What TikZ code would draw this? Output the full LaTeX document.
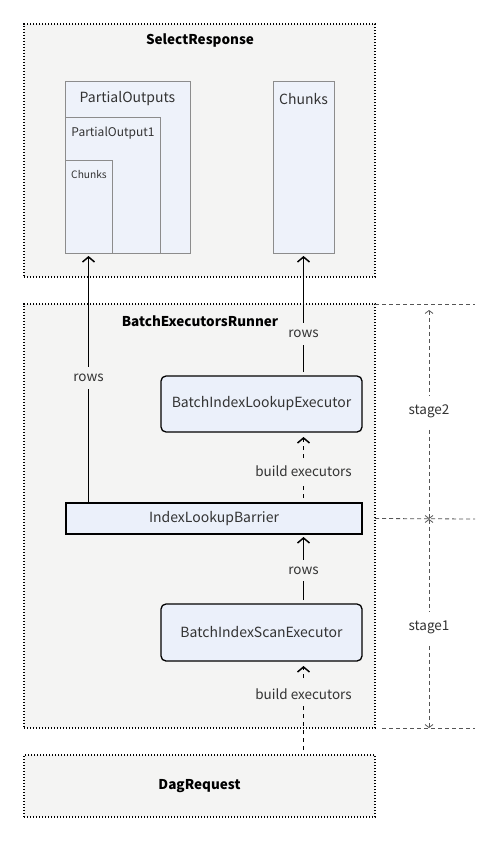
\documentclass[tikz,border=0pt]{standalone}
\usepackage{fontspec}
\setmainfont{Noto Sans CJK SC}
\usetikzlibrary{arrows.meta,positioning}
\tikzset{>={Straight Barb[length=5pt,width=12pt]}}
\definecolor{panel}{HTML}{F4F4F3}
\definecolor{partblue}{HTML}{EEF2FA}
\definecolor{partline}{HTML}{8C8C8C}
\definecolor{execblue}{HTML}{EBF0FA}
\definecolor{ink}{HTML}{333333}
\definecolor{guideline}{HTML}{555555}
\tikzset{
    region/.style={draw=black, fill=panel, line width=1.3pt, dash pattern=on 1.3pt off 1.7pt,
        inner sep=0pt, outer sep=0pt, minimum width=351pt},
    title/.style={text=black, font=\bfseries\fontsize{13.5}{15}\selectfont},
    part/.style={draw=partline, fill=partblue, line width=1pt, inner sep=0pt, outer sep=0pt},
    exec/.style={draw=black, fill=execblue, line width=1.3pt, inner sep=0pt, outer sep=0pt,
        text=ink, font=\fontsize{14}{16}\selectfont},
    flow/.style={->, line width=1.5pt},
    build/.style={->, line width=1.5pt, dash pattern=on 4pt off 4pt},
    tag/.style={fill=panel, text=ink, inner xsep=2pt, inner ysep=7pt, font=\fontsize{13.5}{15}\selectfont},
    guide/.style={draw=guideline, line width=0.8pt, dash pattern=on 4pt off 3pt},
    span/.style={guide, {Straight Barb[length=3pt,width=8pt]}-{Straight Barb[length=3pt,width=8pt]}},
}
\begin{document}
\begin{tikzpicture}[x=1pt,y=-1pt]
    \useasboundingbox (0,0) rectangle (500,842);
    \node[region, minimum height=253pt] at (199.5,150.5) (resp) {};
    \node[title] at (200,41) (resptitle) {SelectResponse};
    \node[part, minimum width=125pt, minimum height=171pt] at (127.5,167.5) (outs) {};
    \node[part, minimum width=95pt, minimum height=135pt] at (112.5,185.5) (out1) {};
    \node[part, minimum width=47pt, minimum height=92pt] at (88.5,207) (outchunks) {};
    \node[part, minimum width=61pt, minimum height=171pt] at (303.5,167.5) (chunks) {};
    \node[text=ink, font=\fontsize{14}{16}\selectfont] at (127.5,99) {PartialOutputs};
    \node[text=ink, font=\fontsize{12}{14}\selectfont] at (113,133) {PartialOutput1};
    \node[text=ink, font=\fontsize{10.2}{12}\selectfont] at (89,175) {Chunks};
    \node[text=ink, font=\fontsize{14}{16}\selectfont] at (303.5,99) {Chunks};

    \node[region, minimum height=424pt] at (199.5,516) (runner) {};
    \node[title] at (200,321) (runnertitle) {BatchExecutorsRunner};
    \node[exec, rounded corners=5pt, minimum width=201pt, minimum height=56pt] at (261.5,404) (lookup) {BatchIndexLookupExecutor};
    \node[exec, minimum width=296pt, minimum height=31pt] at (214,518.5) (barrier) {IndexLookupBarrier};
    \node[exec, rounded corners=5pt, minimum width=201pt, minimum height=57pt] at (261.5,632.5) (scan) {BatchIndexScanExecutor};

    \node[region, minimum height=62pt, title] at (199.5,786) (dag) {DagRequest};

    \draw[flow, shorten >=3pt] (barrier.north -| outchunks.south) -- node[tag] {rows} (outchunks.south);
    \draw[flow, shorten <=4pt, shorten >=3pt] (lookup.north -| chunks.south) -- node[tag, pos=0.34] {rows} (chunks.south);
    \draw[build, shorten <=5pt, shorten >=5pt] (barrier.north -| chunks.south) -- node[tag, pos=0.45] {build executors} (lookup.south -| chunks.south);
    \draw[flow, shorten <=4pt, shorten >=3pt] (scan.north -| chunks.south) -- node[tag, pos=0.48] {rows} (barrier.south -| chunks.south);
    \draw[build, shorten <=5pt, shorten >=5pt] (dag.north -| chunks.south) -- node[tag, pos=0.65] {build executors} (scan.south -| chunks.south);

    \coordinate (g2) at (475,304);
    \coordinate (g1) at (475,519);
    \coordinate (g0) at (475,728);
    \coordinate (s2a) at (429,304);
    \coordinate (s2b) at (429,519);
    \coordinate (s1b) at (429,728);
    \draw[guide] (runner.north east) -- (g2);
    \draw[guide] (barrier.east -| runner.east) -- (g1);
    \draw[guide, shorten <=7pt] (runner.south east) -- (g0);
    \draw[span, shorten <=6pt] (s2a) -- node[tag, fill=white, inner ysep=9pt] {stage2} (s2b);
    \draw[span] (s2b) -- node[tag, fill=white, inner ysep=9pt, pos=0.52] {stage1} (s1b);
\end{tikzpicture}
\end{document}
